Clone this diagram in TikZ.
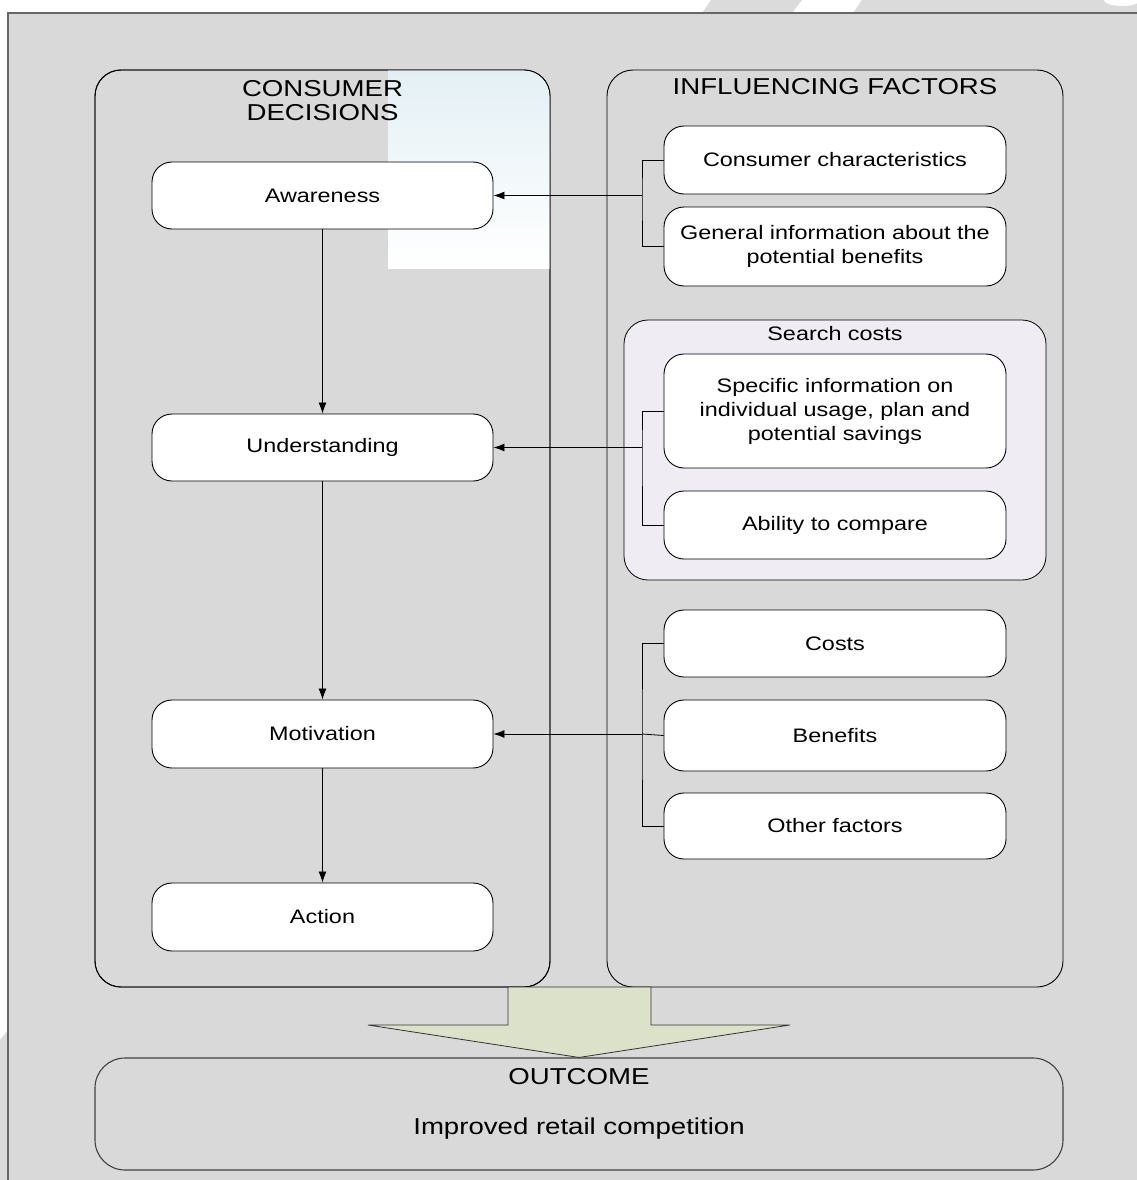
\documentclass[tikz,border=0pt]{standalone}
\usepackage{fontspec}
\setmainfont{Liberation Sans}[FakeStretch=1.2]
\usetikzlibrary{arrows.meta,calc}
\definecolor{bggray}{HTML}{D9D9D9}
\definecolor{framegray}{HTML}{666666}
\definecolor{searchfill}{HTML}{EFEDF3}
\definecolor{arrowfill}{HTML}{DCE1CA}
\definecolor{gradblue}{HTML}{E4F0F5}
\tikzset{
  panelbox/.style={draw=black, line width=0.9pt, rounded corners=26pt, fill=bggray, inner sep=0pt},
  itembox/.style={draw=black, line width=0.9pt, rounded corners=20pt, fill=white, align=center,
     inner sep=0pt, font=\fontsize{19.5}{24}\selectfont},
  titletext/.style={align=center, inner sep=0pt, font=\fontsize{23}{24}\selectfont},
  smalltitle/.style={align=center, inner sep=0pt, font=\fontsize{19.5}{24}\selectfont},
  conn/.style={draw=black, line width=0.8pt},
  arr/.style={draw=black, line width=0.8pt, -{Latex[length=11pt,width=8pt]}},
}
\begin{document}
\begin{tikzpicture}[x=1pt,y=-1pt]
\useasboundingbox (0,0) rectangle (1137,1180);
\clip (0,0) rectangle (1137,1180);
% page watermark traces
\fill[bggray!95!white] (702,13) -- (711,0) -- (802,0) -- (792,13) -- cycle;
\fill[bggray!95!white] (853,13) -- (862,0) -- (1137,0) -- (1137,13) -- cycle;
\fill[white] (1122,0) ellipse (18pt and 6pt);
\fill[bggray!95!white] (0,1040) -- (8,1030) -- (8,1180) -- (0,1180) -- cycle;
% outer frame
\draw[draw=framegray, line width=2pt, fill=bggray] (8,13) rectangle (1160,1200);

% panels
\node[panelbox, minimum width=455pt, minimum height=917pt] (lp) at (322.5,528.5) {};
\begin{scope}
  \clip[rounded corners=26pt] (95,70) rectangle (550,987);
  \shade[top color=gradblue, bottom color=white] (388,70) rectangle (550,268);
\end{scope}
\draw[line width=0.9pt, rounded corners=26pt] (95,70) rectangle (550,987);
\node[panelbox, minimum width=456pt, minimum height=917pt] (rp) at (835,528.5) {};

\node[titletext, anchor=north] (lt) at (322.5,80) {CONSUMER\\DECISIONS};
\node[titletext, anchor=north] (rt) at (835,78) {INFLUENCING FACTORS};

% search costs group
\node[draw=black, line width=0.8pt, rounded corners=24pt, fill=searchfill,
      minimum width=422pt, minimum height=260pt, inner sep=0pt] (sg) at (835,450) {};
\node[smalltitle] (sgt) at (835,334) {Search costs};

% left column
\node[itembox, minimum width=341pt, minimum height=67pt] (aw) at (322.5,195.5) {Awareness};
\node[itembox, minimum width=341pt, minimum height=67pt] (un) at (322.5,447.5) {Understanding};
\node[itembox, minimum width=341pt, minimum height=68pt] (mo) at (322.5,734) {Motivation};
\node[itembox, minimum width=341pt, minimum height=68pt] (ac) at (322.5,917) {Action};

% right column
\node[itembox, minimum width=342pt, minimum height=68pt] (cc) at (835,160) {Consumer characteristics};
\node[itembox, minimum width=342pt, minimum height=79pt] (gi) at (835,246.5) {General information about the\\potential benefits};
\node[itembox, minimum width=342pt, minimum height=114pt] (si) at (835,411) {Specific information on\\individual usage, plan and\\potential savings};
\node[itembox, minimum width=342pt, minimum height=68pt] (ab) at (835,525) {Ability to compare};
\node[itembox, minimum width=342pt, minimum height=67pt] (co) at (835,643.5) {Costs};
\node[itembox, minimum width=342pt, minimum height=71pt] (be) at (835,735.5) {Benefits};
\node[itembox, minimum width=342pt, minimum height=66pt] (ot) at (835,826) {Other factors};

% vertical flow
\draw[arr] (aw.south) -- (un.north);
\draw[arr] (un.south) -- (mo.north);
\draw[arr] (mo.south) -- (ac.north);

% brackets
\coordinate (j1) at (642,195.5);
\coordinate (j2) at (642,447.5);
\coordinate (j3) at (642,734);
\draw[conn] (cc.west) -| (j1) |- (gi.west);
\draw[arr] (j1) -- (aw.east);
\draw[conn] (si.west) -| (j2) |- (ab.west);
\draw[arr] (j2) -- (un.east);
\draw[conn] (co.west) -| (j3) |- (ot.west);
\draw[conn] (be.west) -- (j3);
\draw[arr] (j3) -- (mo.east);

% outcome
\node[draw=black!75, line width=1.1pt, rounded corners=30pt, fill=bggray,
      minimum width=968pt, minimum height=112pt, inner sep=0pt] (oc) at (579,1114) {};
\node[titletext] (oct) at (579,1077) {OUTCOME};
\node[titletext] (occ) at (579,1129) {Improved retail competition};

% big down arrow
\draw[draw=black!80, line width=0.8pt, fill=arrowfill]
  (508,987) -- (651,987) -- (651,1025) -- (790,1025) -- (oc.north) -- (368,1025) -- (508,1025) -- cycle;
\end{tikzpicture}
\end{document}
